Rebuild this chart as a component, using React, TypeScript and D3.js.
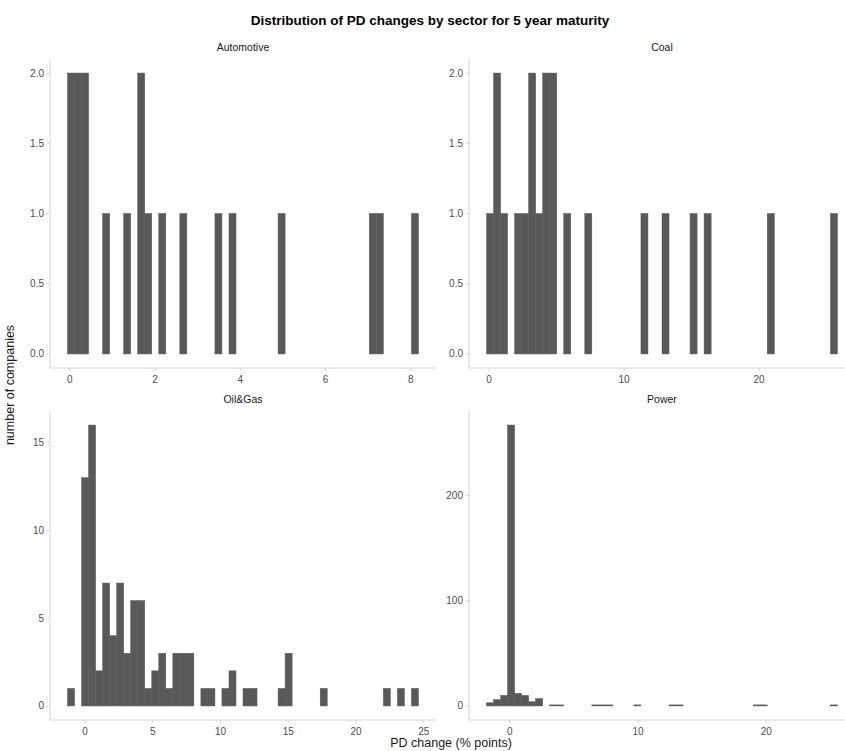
import React from "react";
import * as d3 from "d3";

const W = 845;
const H = 751;

const titleText = "Distribution of PD changes by sector for 5 year maturity";
const xAxisTitle = "PD change (% points)";
const yAxisTitle = "number of companies";

const sectors = ["Automotive", "Coal", "Oil&Gas", "Power"];

// histogram counts (50 bins each)
const automotiveCounts = [
  2, 2, 2, 0, 0, 1, 0, 0, 1, 0,
  2, 1, 0, 1, 0, 0, 1, 0, 0, 0,
  0, 1, 0, 1, 0, 0, 0, 0, 0, 0,
  1, 0, 0, 0, 0, 0, 0, 0, 0, 0,
  0, 0, 0, 1, 1, 0, 0, 0, 0, 1,
];
const coalCounts = [
  1, 2, 1, 0, 1, 1, 2, 1, 2, 2,
  0, 1, 0, 0, 1, 0, 0, 0, 0, 0,
  0, 0, 1, 0, 0, 1, 0, 0, 0, 1,
  0, 1, 0, 0, 0, 0, 0, 0, 0, 0,
  1, 0, 0, 0, 0, 0, 0, 0, 0, 1,
];
const oilGasCounts = [
  1, 0, 13, 16, 2, 7, 4, 7, 3, 6,
  6, 1, 2, 3, 1, 3, 3, 3, 0, 1,
  1, 0, 1, 2, 0, 1, 1, 0, 0, 0,
  1, 3, 0, 0, 0, 0, 1, 0, 0, 0,
  0, 0, 0, 0, 0, 1, 0, 1, 0, 1,
];
const powerCounts = [
  3, 6, 10, 267, 12, 10, 4, 7, 0, 1,
  1, 0, 0, 0, 0, 1, 1, 1, 0, 0,
  0, 1, 0, 0, 0, 0, 1, 1, 0, 0,
  0, 0, 0, 0, 0, 0, 0, 0, 1, 1,
  0, 0, 0, 0, 0, 0, 0, 0, 0, 1,
];

// first bin edge and bin width per sector
const binStarts = [-0.054, -0.19, -1.29, -1.81];
const binWidths = [0.1647, 0.52, 0.518, 0.547];

const xTicksList = [
  [0, 2, 4, 6, 8],
  [0, 10, 20],
  [0, 5, 10, 15, 20, 25],
  [0, 10, 20],
];
const yTicksList = [
  [0, 0.5, 1, 1.5, 2],
  [0, 0.5, 1, 1.5, 2],
  [0, 5, 10, 15],
  [0, 100, 200],
];
const yFormats = [".1f", ".1f", "d", "d"];

const countsList = [automotiveCounts, coalCounts, oilGasCounts, powerCounts];

const FONT = "'Liberation Sans', Arial, Helvetica, sans-serif";
const BAR = "#595959";
const AXIS = "#d4d4d4";
const TICKTXT = "#4d4d4d";

const panelLefts = [50, 469];
const panelWidth = 386;
const panelTops = [59, 411];
const panelHeight = 309;

function Panel({ idx }: { idx: number }) {
  const counts = countsList[idx];
  const col = idx % 2;
  const row = Math.floor(idx / 2);
  const x0 = panelLefts[col];
  const y0 = panelTops[row];
  const start = binStarts[idx];
  const bw = binWidths[idx];
  const end = start + bw * counts.length;
  const span = end - start;
  const x = d3
    .scaleLinear()
    .domain([start - 0.05 * span, end + 0.05 * span])
    .range([x0, x0 + panelWidth]);
  const maxC = d3.max(counts) as number;
  const y = d3
    .scaleLinear()
    .domain([-0.05 * maxC, maxC * 1.05])
    .range([y0 + panelHeight, y0]);
  const fmt = d3.format(yFormats[idx]);
  const bottom = y0 + panelHeight;
  return (
    <g>
      <text
        x={x0 + panelWidth / 2}
        y={y0 - 8}
        textAnchor="middle"
        fontSize={10.5}
        fill="#1a1a1a"
        fontFamily={FONT}
      >
        {sectors[idx]}
      </text>
      {counts.map((c, i) =>
        c > 0 ? (
          <rect
            key={i}
            x={x(start + i * bw)}
            width={x(start + (i + 1) * bw) - x(start + i * bw)}
            y={y(c)}
            height={y(0) - y(c)}
            fill={BAR}
            stroke={BAR}
            strokeWidth={0.5}
          />
        ) : null
      )}
      <line x1={x0} x2={x0} y1={y0} y2={bottom} stroke={AXIS} strokeWidth={1} />
      <line x1={x0} x2={x0 + panelWidth} y1={bottom} y2={bottom} stroke={AXIS} strokeWidth={1} />
      {yTicksList[idx].map((t) => (
        <g key={"y" + t}>
          <line x1={x0 - 3} x2={x0} y1={y(t)} y2={y(t)} stroke={AXIS} />
          <text
            x={x0 - 6}
            y={y(t)}
            dy="0.35em"
            textAnchor="end"
            fontSize={10}
            fill={TICKTXT}
            fontFamily={FONT}
          >
            {fmt(t)}
          </text>
        </g>
      ))}
      {xTicksList[idx].map((t) => (
        <g key={"x" + t}>
          <line x1={x(t)} x2={x(t)} y1={bottom} y2={bottom + 3} stroke={AXIS} />
          <text
            x={x(t)}
            y={bottom + 15}
            textAnchor="middle"
            fontSize={10}
            fill={TICKTXT}
            fontFamily={FONT}
          >
            {t}
          </text>
        </g>
      ))}
    </g>
  );
}

export default function App() {
  return (
    <svg
      width={W}
      height={H}
      style={{ position: "absolute", left: 0, top: 0, background: "#fff" }}
    >
      <rect width={W} height={H} fill="#fff" />
      <text
        x={430}
        y={25}
        textAnchor="middle"
        fontSize={13.5}
        fontWeight="bold"
        fill="#000"
        fontFamily={FONT}
      >
        {titleText}
      </text>
      {sectors.map((_, i) => (
        <Panel key={i} idx={i} />
      ))}
      <text
        x={451}
        y={747}
        textAnchor="middle"
        fontSize={12.5}
        fill="#1a1a1a"
        fontFamily={FONT}
      >
        {xAxisTitle}
      </text>
      <text
        transform={`translate(14, 385) rotate(-90)`}
        textAnchor="middle"
        fontSize={12.5}
        fill="#1a1a1a"
        fontFamily={FONT}
      >
        {yAxisTitle}
      </text>
    </svg>
  );
}
